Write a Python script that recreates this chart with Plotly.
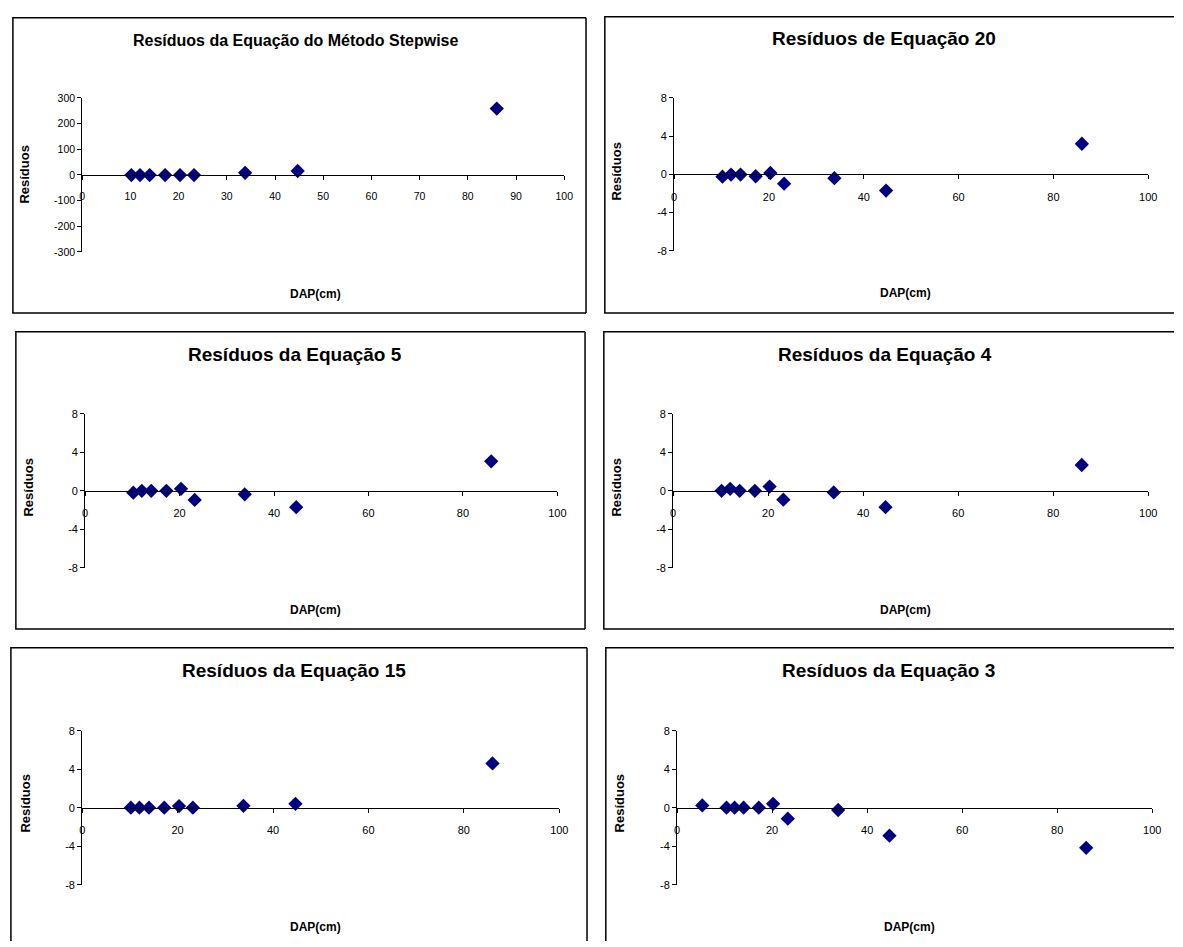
import plotly.graph_objects as go

# ---------------- data ----------------
titles = [
    "Resíduos da Equação do Método Stepwise",
    "Resíduos de Equação 20",
    "Resíduos da Equação 5",
    "Resíduos da Equação 4",
    "Resíduos da Equação 15",
    "Resíduos da Equação 3",
]
x_title = "DAP(cm)"
y_title = "Resíduos"

dap = [10.2, 12.0, 14.0, 17.2, 20.3, 23.2, 33.8, 44.7, 86.0]
dap_eq3 = [5.3, 10.4, 12.1, 14.0, 17.2, 20.2, 23.3, 33.9, 44.7, 86.1]

res_stepwise = [-1, -1, -1, -1, -1, -1, 8, 15, 258]
res_eq20 = [-0.24, -0.03, -0.03, -0.2, 0.14, -0.98, -0.4, -1.7, 3.2]
res_eq5 = [-0.2, 0.0, 0.0, 0.0, 0.2, -0.95, -0.37, -1.7, 3.06]
res_eq4 = [0.0, 0.2, 0.0, 0.0, 0.44, -0.92, -0.17, -1.7, 2.68]
res_eq15 = [0.0, 0.0, 0.0, 0.0, 0.17, 0.0, 0.2, 0.4, 4.6]
res_eq3 = [0.24, 0.0, 0.0, 0.0, 0.0, 0.4, -1.14, -0.24, -2.9, -4.17]

x_series = [dap, dap, dap, dap, dap, dap_eq3]
y_series = [res_stepwise, res_eq20, res_eq5, res_eq4, res_eq15, res_eq3]

y_ticks_step = [300, 200, 100, 0, -100, -200, -300]
y_ticks_eq = [8, 4, 0, -4, -8]
x_ticks_step = [0, 10, 20, 30, 40, 50, 60, 70, 80, 90, 100]
x_ticks_eq = [0, 20, 40, 60, 80, 100]

# ---------------- layout geometry (pixels of the 1183x947 page) ----------------
W, H = 1183, 947
# plot area: x0, x1 (px), ytop, ybottom (px)
plot_px = [
    (80, 567, 93, 249),
    (678, 1157, 93, 248),
    (83, 560, 413, 569),
    (677, 1157, 413, 569),
    (80, 562, 734, 890),
    (681, 1161, 734, 890),
]
# frame: left, top, right, bottom (px); edges beyond the page are left open
frames = [
    (10, 12, 589, 311),
    (608, 11, 1195, 311),
    (13, 330, 588, 631),
    (607, 330, 1195, 631),
    (8, 650, 590, 960),
    (609, 650, 1195, 960),
]
title_pos = [(295, 35), (890, 33), (295, 353), (891, 353), (294, 673), (895, 673)]
title_size = [16, 19, 19, 19, 19, 19]
xt_pos = [(316, 292), (912, 291), (316, 612), (912, 612), (316, 933), (916, 933)]
yt_pos = [(22, 170), (620, 167), (26, 487), (620, 487), (23, 807), (623, 807)]


def fx(px):
    return px / W


def fy(py):
    return 1 - py / H


FONT = "Arial, 'Liberation Sans', sans-serif"
fig = go.Figure()
annotations = []
shapes = []
layout = dict(
    autosize=True,
    margin=dict(l=0, r=0, t=0, b=0, pad=0),
    paper_bgcolor="white",
    plot_bgcolor="white",
    showlegend=False,
    font=dict(family=FONT, color="black"),
)

for i in range(6):
    n = "" if i == 0 else str(i + 1)
    xa, ya = "x" + n, "y" + n
    x0, x1, yt, yb = plot_px[i]
    if i == 0:
        yr = [-300, 300]
        yticks = y_ticks_step
        xticks = x_ticks_step
        tfs = 10.5
    else:
        yr = [-8, 8]
        yticks = y_ticks_eq
        xticks = x_ticks_eq
        tfs = 11
    ybot_f, ytop_f = fy(yb), fy(yt)
    zero_pos = ybot_f + (0 - yr[0]) / (yr[1] - yr[0]) * (ytop_f - ybot_f)

    fig.add_trace(
        go.Scatter(
            x=x_series[i],
            y=y_series[i],
            mode="markers",
            marker=dict(symbol="diamond", size=11, color="#000080"),
            xaxis=xa,
            yaxis=ya,
            cliponaxis=False,
            hoverinfo="skip",
        )
    )
    layout["xaxis" + n] = dict(
        domain=[fx(x0), fx(x1)],
        range=[0, 100],
        anchor="free",
        position=zero_pos,
        tickmode="array",
        tickvals=xticks,
        ticktext=[str(v) for v in xticks],
        ticks="outside",
        ticklen=4,
        tickcolor="black",
        showline=True,
        linecolor="black",
        linewidth=1,
        showgrid=False,
        zeroline=False,
        tickfont=dict(size=tfs, family=FONT, color="black"),
        ticklabelstandoff=8,
        fixedrange=True,
    )
    layout["yaxis" + n] = dict(
        domain=[ybot_f, ytop_f],
        range=yr,
        anchor=xa,
        tickmode="array",
        tickvals=yticks,
        ticktext=[str(v) for v in yticks],
        ticks="outside",
        ticklen=4,
        tickcolor="black",
        showline=True,
        linecolor="black",
        linewidth=1,
        showgrid=False,
        zeroline=False,
        tickfont=dict(size=tfs, family=FONT, color="black"),
        fixedrange=True,
    )
    # frame drawn as open path segments, clamped to the page
    l, t, r, b = frames[i]
    rr, bb = min(r, W), min(b, H)
    d = f"M {fx(rr)} {fy(t)} L {fx(l)} {fy(t)} L {fx(l)} {fy(bb)}"
    if b <= H:
        d += f" L {fx(rr)} {fy(bb)}"
    if r <= W:
        d += f" M {fx(r)} {fy(t)} L {fx(r)} {fy(bb)}"
    shapes.append(
        dict(
            type="path",
            path=d,
            xref="paper",
            yref="paper",
            line=dict(color="black", width=1.5),
            layer="below",
        )
    )
    tx, ty = title_pos[i]
    annotations.append(
        dict(
            text="<b>" + titles[i] + "</b>",
            x=fx(tx),
            y=fy(ty),
            xref="paper",
            yref="paper",
            showarrow=False,
            xanchor="center",
            yanchor="middle",
            font=dict(size=title_size[i], family=FONT, color="black"),
        )
    )
    ax, ay = xt_pos[i]
    annotations.append(
        dict(
            text="<b>" + x_title + "</b>",
            x=fx(ax),
            y=fy(ay),
            xref="paper",
            yref="paper",
            showarrow=False,
            xanchor="center",
            yanchor="middle",
            font=dict(size=12, family=FONT, color="black"),
        )
    )
    bx, by = yt_pos[i]
    annotations.append(
        dict(
            text="<b>" + y_title + "</b>",
            x=fx(bx),
            y=fy(by),
            xref="paper",
            yref="paper",
            showarrow=False,
            textangle=-90,
            xanchor="center",
            yanchor="middle",
            font=dict(size=13, family=FONT, color="black"),
        )
    )

layout["annotations"] = annotations
layout["shapes"] = shapes
fig.update_layout(**layout)
fig.write_html(
    "out.html",
    default_width="100vw",
    default_height="100vh",
    config={"displayModeBar": False, "responsive": True},
    post_script="document.body.style.margin='0px';document.body.style.overflow='hidden';",
)
